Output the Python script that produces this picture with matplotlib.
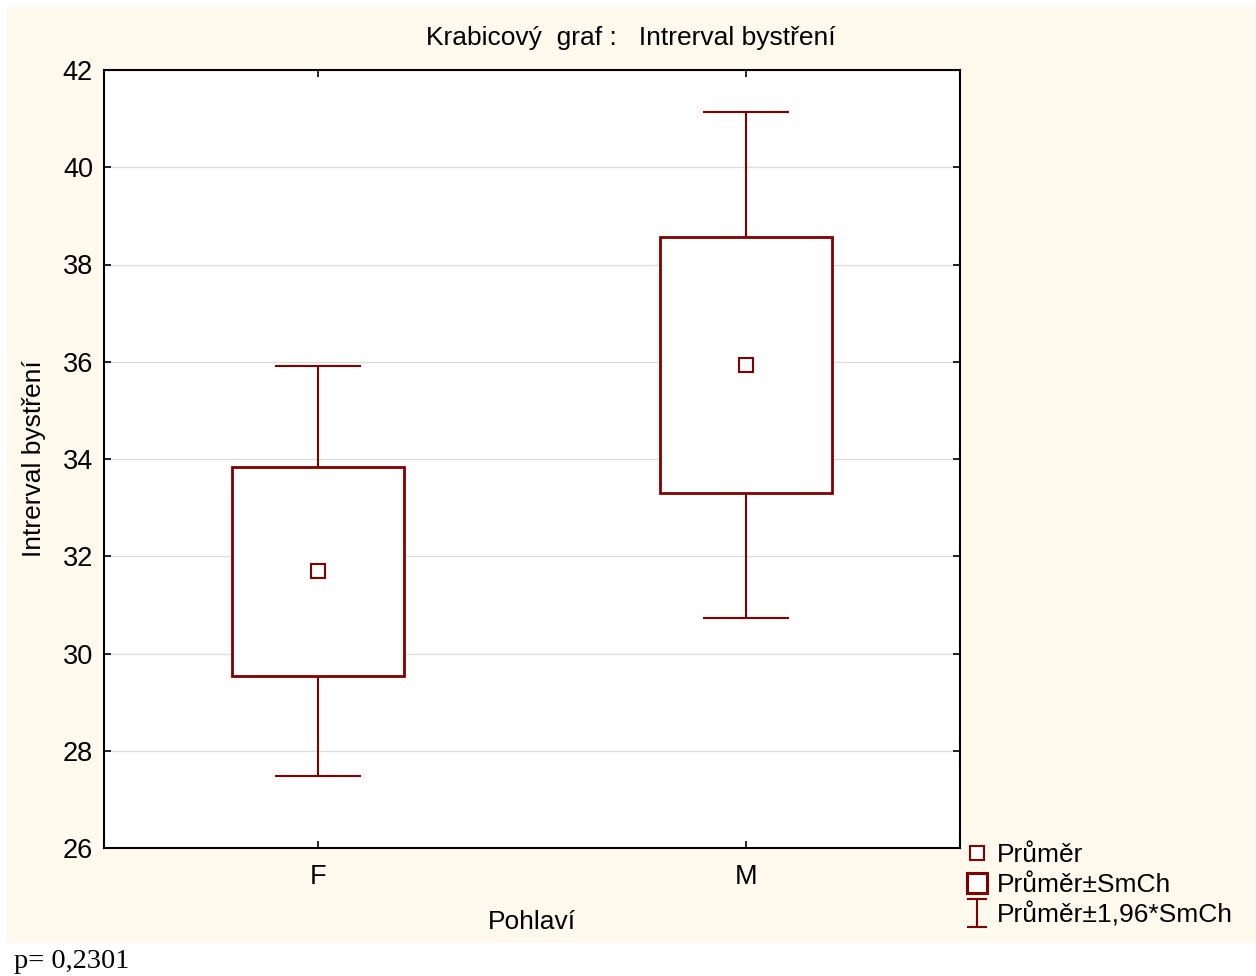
import numpy as np
import matplotlib.pyplot as plt
from matplotlib.patches import Rectangle
from matplotlib.path import Path
from matplotlib.lines import Line2D

# data
skupiny = ['F', 'M']
prumer = [31.70, 35.93]
smch_dolni = [29.54, 33.30]
smch_horni = [33.83, 38.57]
ci_dolni = [27.48, 30.73]
ci_horni = [35.91, 41.14]
y_ticks = [26, 28, 30, 32, 34, 36, 38, 40, 42]

barva = '#800000'
pozadi = '#FFF9EE'

plt.rcParams['font.family'] = ['Liberation Sans', 'DejaVu Sans']

fig = plt.figure(figsize=(12.56, 9.76), dpi=100)
W, H = 1256, 976
fig.patches.append(Rectangle((7 / W, 1 - 943 / H), 1 - 7 / W, (943 - 7) / H,
                             transform=fig.transFigure, facecolor=pozadi,
                             edgecolor='none', zorder=-10))

ax = fig.add_axes([104 / W, 1 - 848 / H, (960 - 104) / W, (848 - 70) / H])
ax.set_facecolor('white')

x = np.arange(len(skupiny))
# whiskers (mean +- 1.96*SE)
ax.vlines(x, ci_dolni, ci_horni, color=barva, linewidth=1.5, zorder=2)
ax.hlines(ci_dolni, x - 0.1, x + 0.1, color=barva, linewidth=1.5, zorder=2)
ax.hlines(ci_horni, x - 0.1, x + 0.1, color=barva, linewidth=1.5, zorder=2)
# boxes (mean +- SE)
vysky = np.array(smch_horni) - np.array(smch_dolni)
ax.bar(x, vysky, bottom=smch_dolni, width=0.4, facecolor='white',
       edgecolor=barva, linewidth=2, zorder=3)
# means
ax.plot(x, prumer, linestyle='none', marker='s', markersize=9.5,
        markerfacecolor='white', markeredgecolor=barva, markeredgewidth=1.5,
        zorder=4)

ax.set_xlim(-0.5, 1.5)
ax.set_ylim(26, 42)
ax.set_xticks(x)
ax.set_xticklabels(skupiny)
ax.set_yticks(y_ticks)
ax.yaxis.grid(True, color='#DDDDDD', linewidth=1)
ax.set_axisbelow(True)
ax.tick_params(direction='in', length=5, width=1.2, labelsize=19.5,
               top=True, right=True)
ax.tick_params(axis='y', pad=8)
ax.tick_params(axis='x', pad=11.5)
for s in ax.spines.values():
    s.set_linewidth(1.5)

ax.set_xlabel('Pohlaví', fontsize=19)
ax.set_ylabel('Intrerval bystření', fontsize=19)
ax.xaxis.set_label_coords(0.5, (848 - 910) / 778)
ax.yaxis.set_label_coords((46 - 104) / 856, 0.5)
fig.text(631 / W, 1 - 38 / H, 'Krabicový  graf :   Intrerval bystření',
         fontsize=19, ha='center', va='center')

# legend
ibeam = Path([(-0.7, 1), (0.7, 1), (0, 1), (0, -1), (-0.7, -1), (0.7, -1)],
             [Path.MOVETO, Path.LINETO, Path.MOVETO, Path.LINETO,
              Path.MOVETO, Path.LINETO])
handles = [
    Line2D([], [], linestyle='none', marker='s', markersize=9.5,
           markerfacecolor='white', markeredgecolor=barva, markeredgewidth=1.5),
    Line2D([], [], linestyle='none', marker='s', markersize=15,
           markerfacecolor='white', markeredgecolor=barva, markeredgewidth=2.2),
    Line2D([], [], linestyle='none', marker=ibeam, markersize=20,
           markerfacecolor='none', markeredgecolor=barva, markeredgewidth=1.5),
]
labels = ['Průměr', 'Průměr±SmCh', 'Průměr±1,96*SmCh']
fig.legend(handles, labels, loc='upper left',
           bbox_to_anchor=(948 / W, 1 - 825 / H), frameon=False,
           fontsize=19, handlelength=0.8, handletextpad=0.36,
           labelspacing=0.2, borderpad=0.2)

fig.text(14 / W, 1 - 961 / H, 'p= 0,2301', fontsize=20.5,
         family='Liberation Serif', ha='left', va='center')

fig.savefig('out.png', dpi=100, facecolor='white')
